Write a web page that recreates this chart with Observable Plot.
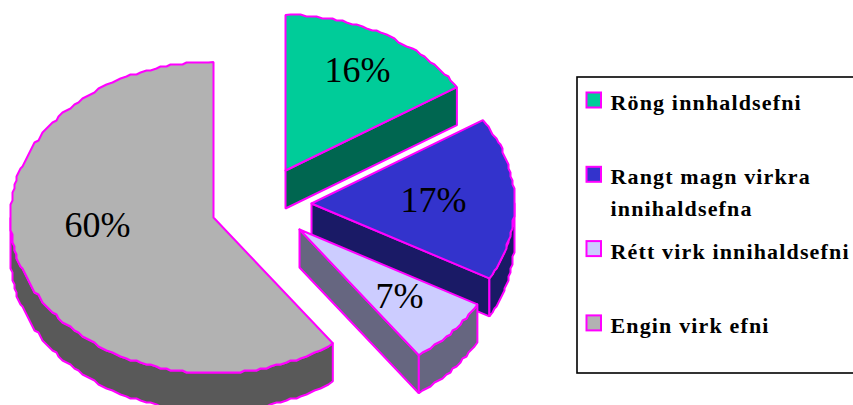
<!DOCTYPE html>
<html>
<head>
<meta charset="utf-8">
<style>
  html, body { margin: 0; padding: 0; background: #fff; overflow: hidden; }
  svg { display: block; }
  .legend-labels text { letter-spacing: 1.15px; }
</style>
<script src="https://cdn.jsdelivr.net/npm/d3@7"></script>
<script src="https://cdn.jsdelivr.net/npm/@observablehq/plot@0.6"></script>
</head>
<body>
<div id="chart"></div>
<script>
// Chart data
const categories = ["Röng innhaldsefni", "Rangt magn virkra\ninnihaldsefna", "Rétt virk innihaldsefni", "Engin virk efni"];
const percents = [16, 17, 7, 60];
const topColors = ["#00CC99", "#3333CC", "#CCCCFF", "#B2B2B2"];
const wallColors = ["#006650", "#1A1A66", "#666680", "#595959"];

// Exploded-pie layout, in plot units
const wedgeX = [285, 311, 299, 213];
const wedgeY = [170, 203, 229, 217];
const labelX = [357, 433, 399, 97];
const labelY = [70, 200, 296, 225];
const RX = 203, RY = 155.5, DEPTH = 38;
const OUTLINE = "#FF00FF";
const RIM_GRID = 2; // the rim is drawn on a coarse grid, giving it a stepped edge

// Point on a slice rim; angles run clockwise from twelve o'clock
const rim = (i, deg, drop = 0) => {
  const a = deg * Math.PI / 180;
  return {x: wedgeX[i] + RX * Math.sin(a), y: wedgeY[i] - RY * Math.cos(a) + drop};
};
const snap = (p) => ({x: Math.round(p.x / RIM_GRID) * RIM_GRID, y: Math.round(p.y / RIM_GRID) * RIM_GRID});
const arc = (i, from, to, drop = 0) => {
  const n = Math.max(1, Math.ceil(Math.abs(to - from) / 1.5));
  return d3.range(n + 1).map((k) => {
    const p = rim(i, from + (to - from) * k / n, drop);
    return k === 0 || k === n ? p : snap(p);
  });
};
const closed = (pts) => [...pts, pts[0]];

const polygon = (pts, fill) =>
  Plot.line(closed(pts), {x: "x", y: "y", fill, stroke: OUTLINE, strokeWidth: 2, strokeLinejoin: "miter", curve: "linear"});

const ends = d3.cumsum(percents).map((p) => p * 3.6);
const sliceMarks = [];
percents.forEach((_, i) => {
  const start = i ? ends[i - 1] : 0;
  const end = ends[i];
  const centre = {x: wedgeX[i], y: wedgeY[i]};
  // Only the faces turned towards the viewer are drawn
  if (end < 180) {
    const edge = rim(i, end);
    sliceMarks.push(polygon([centre, edge, {x: edge.x, y: edge.y + DEPTH}, {x: centre.x, y: centre.y + DEPTH}], wallColors[i]));
  }
  const wallFrom = Math.max(start, 90), wallTo = Math.min(end, 270);
  if (wallTo > wallFrom) {
    sliceMarks.push(polygon([...arc(i, wallFrom, wallTo), ...arc(i, wallTo, wallFrom, DEPTH)], wallColors[i]));
  }
  sliceMarks.push(polygon([centre, ...arc(i, start, end)], topColors[i]));
});

// Legend rows share one even spacing inside the box
const legendRow = (i) => 100 + i * 74.3;
const legend = categories.map((label, i) => ({label, color: topColors[i], row: legendRow(i)}));

const chart = Plot.plot({
  width: 853,
  height: 405,
  margin: 0,
  style: {background: "#fff"},
  x: {domain: [0, 853], range: [0, 853], axis: null},
  y: {domain: [0, 405], range: [0, 405], axis: null},
  marks: [
    ...sliceMarks,
    Plot.text(percents, {
      x: (_, i) => labelX[i],
      y: (_, i) => labelY[i],
      text: (d) => `${d}%`,
      fontFamily: "Liberation Serif",
      fontSize: 36,
      fill: "#000"
    }),
    Plot.rect([0], {x1: 577, x2: 870, y1: 77, y2: 373, fill: "none", stroke: "#000", strokeWidth: 1.6}),
    Plot.rect(legend, {
      x1: 586.5, x2: 601,
      y1: (d) => d.row - 7.5,
      y2: (d) => d.row + 7.5,
      fill: "color",
      stroke: OUTLINE,
      strokeWidth: 2
    }),
    Plot.text(legend, {
      x: 610,
      y: "row",
      text: "label",
      textAnchor: "start",
      lineAnchor: "top",
      dy: -13,
      lineHeight: 1.45,
      fontFamily: "Liberation Serif",
      fontWeight: "bold",
      fontSize: 22,
      className: "legend-labels",
      fill: "#000"
    })
  ]
});
document.getElementById("chart").append(chart);
</script>
</body>
</html>
